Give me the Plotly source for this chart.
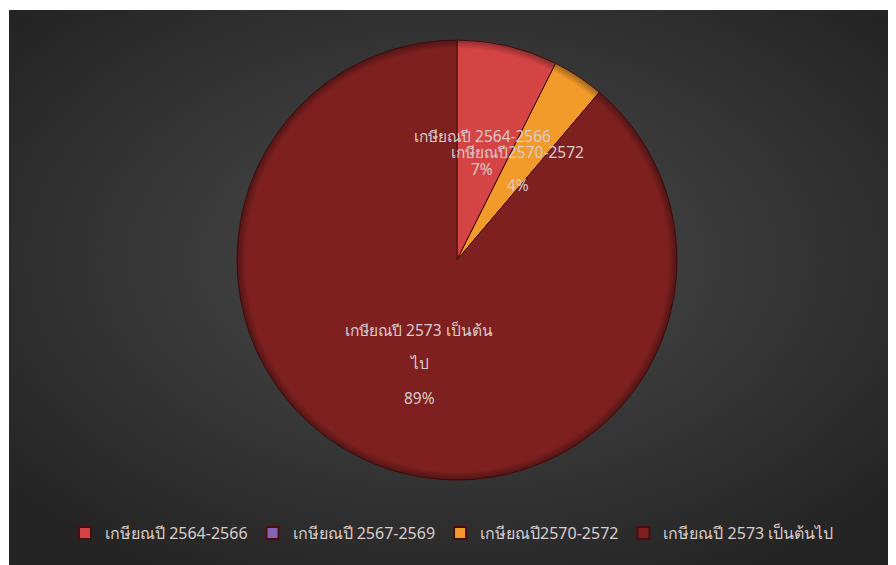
import base64, math
import plotly.graph_objects as go

# ---- data ----
labels = ["เกษียณปี 2564-2566", "เกษียณปี 2567-2569", "เกษียณปี2570-2572", "เกษียณปี 2573 เป็นต้นไป"]
values = [7.4, 0.0, 3.8, 88.8]
label_lines = [["เกษียณปี 2564-2566"], [], ["เกษียณปี2570-2572"], ["เกษียณปี 2573 เป็นต้น", "ไป"]]
colors = ["#d44444", "#8464b4", "#f29a2a", "#7e2020"]

OFF = 8  # page body margin
W, H = 896 - OFF, 565 - OFF
cx_px, cy_px, R_px = 457 - OFF, 260 - OFF, 220
FONT = "Noto Sans, DejaVu Sans, sans-serif"
TXT = "#d8cccc"

fig = go.Figure()
fig.add_trace(go.Pie(
    labels=labels, values=values, sort=False, direction="clockwise", rotation=0,
    marker=dict(colors=colors, line=dict(color="#4a0e0e", width=1)),
    textinfo="none", hoverinfo="label+percent",
    domain=dict(x=[(cx_px - R_px) / W, (cx_px + R_px) / W], y=[1 - (cy_px + R_px) / H, 1 - (cy_px - R_px) / H]),
))

bx, by = 9 - OFF, 10 - OFF
bg_svg = f'''<svg xmlns="http://www.w3.org/2000/svg" width="{W-bx}" height="{H-by}">
<defs><radialGradient id="g" cx="50%" cy="45%" r="65%">
<stop offset="0%" stop-color="#4c4c4c"/><stop offset="100%" stop-color="#242424"/></radialGradient></defs>
<rect width="100%" height="100%" fill="url(#g)"/></svg>'''
rim_svg = f'''<svg xmlns="http://www.w3.org/2000/svg" width="{2*R_px}" height="{2*R_px}">
<defs><radialGradient id="r" cx="50%" cy="50%" r="50%">
<stop offset="0%" stop-color="#000" stop-opacity="0"/>
<stop offset="96%" stop-color="#000" stop-opacity="0"/>
<stop offset="100%" stop-color="#000" stop-opacity="0.35"/></radialGradient></defs>
<circle cx="{R_px}" cy="{R_px}" r="{R_px}" fill="url(#r)"/></svg>'''

def uri(s):
    return "data:image/svg+xml;base64," + base64.b64encode(s.encode()).decode()

images = [
    dict(source=uri(bg_svg), xref="paper", yref="paper", x=bx / W, y=1 - by / H,
         sizex=1 - bx / W, sizey=1 - by / H, xanchor="left", yanchor="top",
         sizing="stretch", layer="below"),
    dict(source=uri(rim_svg), xref="paper", yref="paper", x=(cx_px - R_px) / W, y=1 - (cy_px - R_px) / H,
         sizex=2 * R_px / W, sizey=2 * R_px / H, xanchor="left", yanchor="top",
         sizing="stretch", layer="above"),
]

# data labels placed at half radius on each slice's mid-angle
annotations = []
total = sum(values)
cum = 0.0
for lines, v in zip(label_lines, values):
    mid = (cum + v / 2) / total * 2 * math.pi
    cum += v
    if v <= 0:
        continue
    px = cx_px + 0.5 * R_px * math.sin(mid)
    py = cy_px - 0.5 * R_px * math.cos(mid)
    pct = f"{round(v / total * 100)}%"
    all_lines = lines + [pct]
    if len(lines) == 2:
        shifts = [33, 0, -35]
    else:
        shifts = [16.5, -16.5]
    for t, s in zip(all_lines, shifts):
        annotations.append(dict(x=px / W, y=1 - py / H, xref="paper", yref="paper", text=t,
                                showarrow=False, yshift=s, yanchor="middle",
                                font=dict(size=15.5, color=TXT, family=FONT)))

fig.update_layout(
    width=W, height=H, margin=dict(l=0, r=0, t=0, b=0),
    paper_bgcolor="white", images=images, annotations=annotations,
    showlegend=True,
    legend=dict(orientation="h", x=0.5, xanchor="center", y=1 - (533 - OFF) / H, yanchor="middle",
                font=dict(size=16, color=TXT, family=FONT), bgcolor="rgba(0,0,0,0)",
                itemsizing="constant", traceorder="normal"),
)
fig.write_html("out.html")
